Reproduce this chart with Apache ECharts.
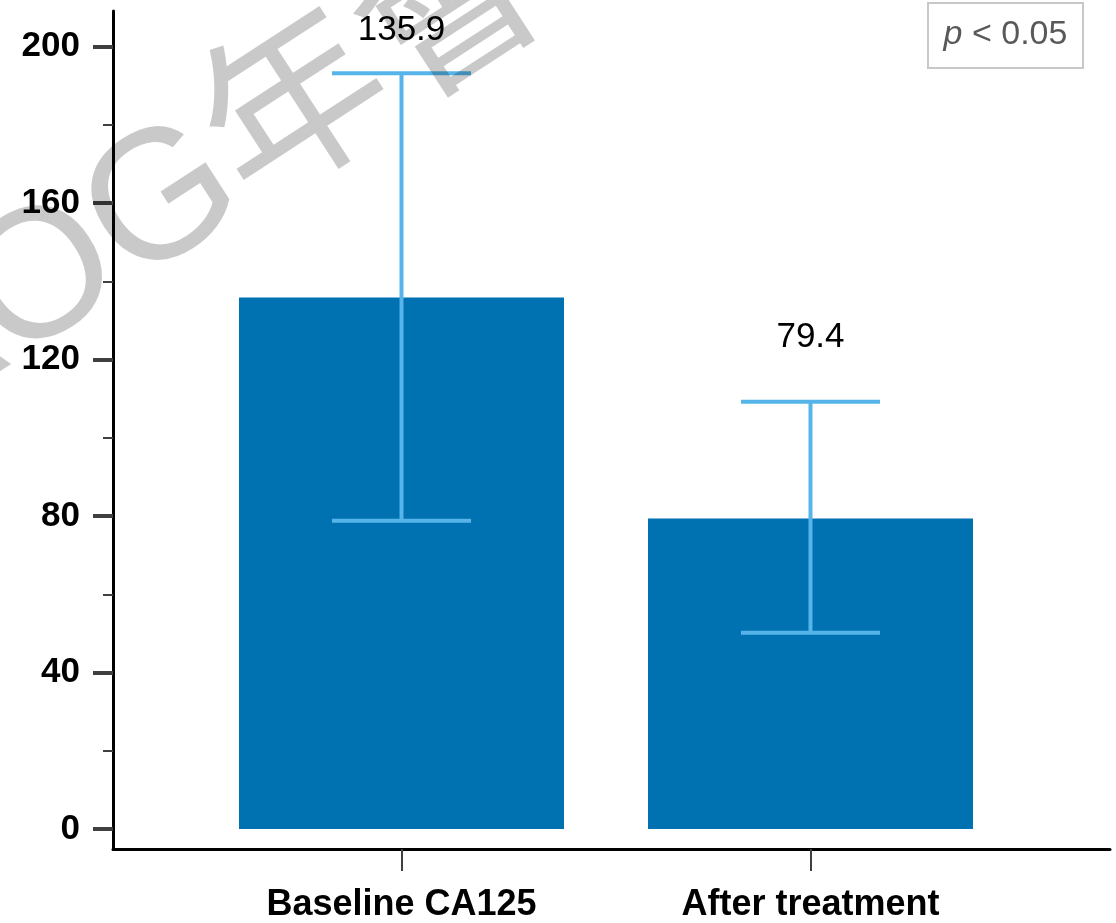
<!DOCTYPE html>
<html>
<head>
<meta charset="utf-8">
<script src="https://cdn.jsdelivr.net/npm/echarts@6/dist/echarts.min.js"></script>
<style>
html,body{margin:0;padding:0;background:#fff;}
#chart{width:1116px;height:923px;}
</style>
</head>
<body>
<div id="chart"></div>
<script>
// ---- data ----
const categories = ['Baseline CA125', 'After treatment'];
const means = [135.9, 79.4];
const errLow = [78.8, 50.2];
const errHigh = [193.2, 109.2];
const valueLabels = ['135.9', '79.4'];
const majorTicks = [0, 40, 80, 120, 160, 200];
const minorTicks = [20, 60, 100, 140, 180];
const pText = 'p';
const pRest = ' < 0.05';
const watermarkText = 'TAOG年會';

// ---- styles ----
const barColor = '#0071B1';
const errColor = '#56B4E9';
const labelGap = [45, 66];
const capWidth = 139;

const chart = echarts.init(document.getElementById('chart'), null, {renderer: 'canvas'});

const option = {
  animation: false,
  backgroundColor: '#fff',
  grid: {left: 113, right: 6, top: 11, bottom: 73, containLabel: false},
  xAxis: {
    type: 'value',
    min: -0.7054, max: 1.7323,
    axisLine: {show: true, onZero: false, lineStyle: {color: '#000', width: 3}},
    axisTick: {show: true, customValues: [0, 1], length: 22, lineStyle: {color: '#404040', width: 2}},
    axisLabel: {
      show: true, customValues: [0, 1], margin: 38,
      formatter: v => categories[Math.round(v)],
      fontSize: 36, fontWeight: 'bold', color: '#000', fontFamily: 'Liberation Sans, Arial, sans-serif'
    },
    splitLine: {show: false}
  },
  yAxis: [
    {
      type: 'value', min: -5.1, max: 209.1,
      axisLine: {show: true, onZero: false, lineStyle: {color: '#000', width: 3}},
      axisTick: {show: true, customValues: majorTicks, length: 20, lineStyle: {color: '#404040', width: 4}},
      axisLabel: {
        show: true, customValues: majorTicks, margin: 33,
        fontSize: 35, fontWeight: 'bold', color: '#000', fontFamily: 'Liberation Sans, Arial, sans-serif'
      },
      splitLine: {show: false}
    },
    {
      type: 'value', min: -5.1, max: 209.1, position: 'left',
      axisLine: {show: false, onZero: false},
      axisTick: {show: true, customValues: minorTicks, length: 10, lineStyle: {color: '#404040', width: 2}},
      axisLabel: {show: false},
      splitLine: {show: false}
    }
  ],
  series: [
    {
      type: 'bar',
      data: means.map((m, i) => [i, m]),
      barWidth: 325,
      itemStyle: {color: barColor},
      z: 2
    },
    {
      type: 'custom',
      data: means.map((m, i) => [i, errLow[i], errHigh[i]]),
      z: 3,
      renderItem: function (params, api) {
        const i = params.dataIndex;
        const x = api.value(0);
        const pHi = api.coord([x, api.value(2)]);
        const pLo = api.coord([x, api.value(1)]);
        const h = capWidth / 2;
        const ls = {stroke: errColor, lineWidth: 4};
        return {
          type: 'group',
          children: [
            {type: 'line', shape: {x1: pHi[0], y1: pHi[1], x2: pLo[0], y2: pLo[1]}, style: ls},
            {type: 'line', shape: {x1: pHi[0] - h, y1: pHi[1], x2: pHi[0] + h, y2: pHi[1]}, style: ls},
            {type: 'line', shape: {x1: pLo[0] - h, y1: pLo[1], x2: pLo[0] + h, y2: pLo[1]}, style: ls},
            {type: 'text', style: {
              text: valueLabels[i], x: pHi[0], y: pHi[1] - labelGap[i] + 2,
              align: 'center', verticalAlign: 'middle',
              font: '35px "Liberation Sans", Arial, sans-serif', fill: '#000'
            }}
          ]
        };
      }
    }
  ],
  graphic: [
    {
      type: 'group', left: 927, top: 2, z: 20,
      children: [
        {type: 'rect', shape: {x: 0, y: 0, width: 155, height: 65}, style: {fill: '#fff', stroke: '#c8c8c8', lineWidth: 2}},
        {type: 'text', x: 77.5, y: 32, style: {
          text: '{i|' + pText + '}{r|' + pRest + '}',
          align: 'center', verticalAlign: 'middle',
          rich: {
            i: {fontSize: 34, fontStyle: 'italic', fill: '#595959', fontFamily: 'Liberation Sans, Arial, sans-serif'},
            r: {fontSize: 34, fill: '#595959', fontFamily: 'Liberation Sans, Arial, sans-serif'}
          }
        }}
      ]
    },
    {
      type: 'text', x: -202, y: 442, rotation: 33 * Math.PI / 180, z: 30, silent: true,
      style: {
        text: watermarkText, align: 'left', verticalAlign: 'middle',
        font: '184px "Liberation Sans", "Noto Sans CJK TC", sans-serif',
        fill: 'rgba(0,0,0,0.21)'
      }
    }
  ]
};
chart.setOption(option);
</script>
</body>
</html>
